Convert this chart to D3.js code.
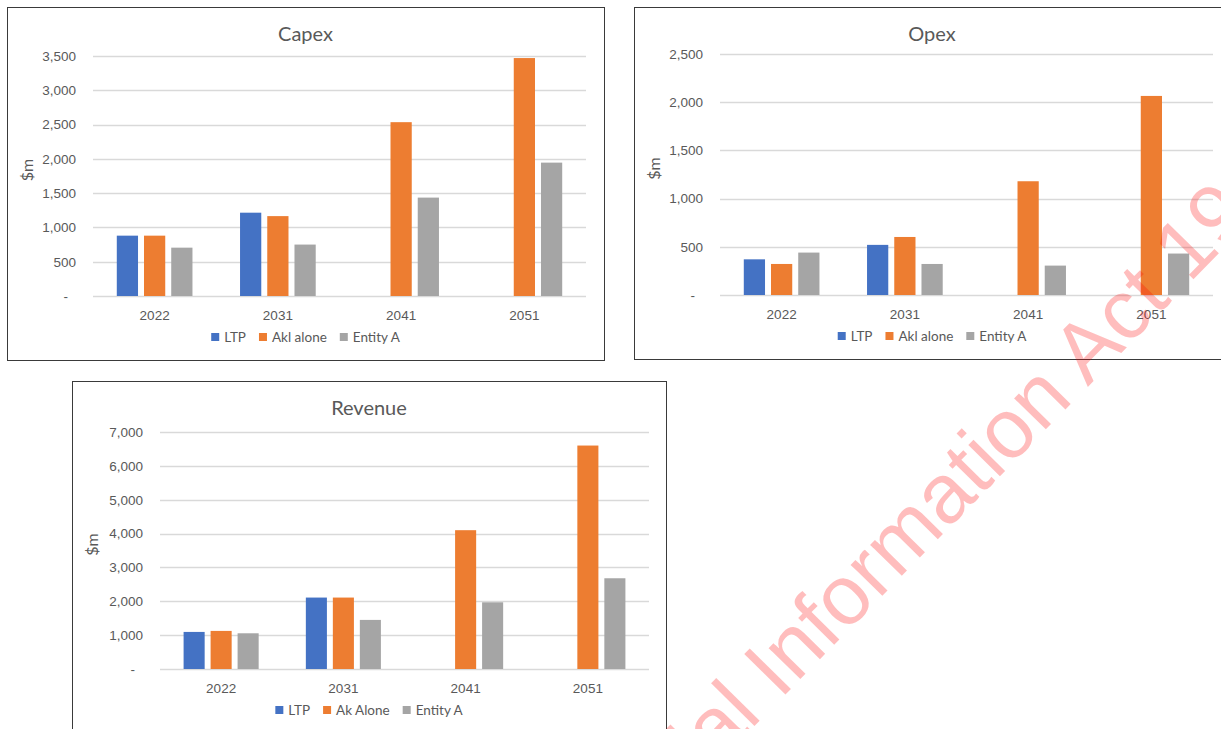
<!DOCTYPE html>
<html>
<head>
<meta charset="utf-8">
<script src="https://cdn.jsdelivr.net/npm/d3@7"></script>
<style>
  body { margin: 0; background: #fff; }
  svg { display: block; font-family: Lato, 'Noto Sans', sans-serif; }
</style>
</head>
<body>
<svg id="canvas" width="1221" height="729"></svg>
<script>
// ---- data ----
const years = ['2022', '2031', '2041', '2051'];
const seriesColors = ['#4472C4', '#ED7D31', '#A5A5A5'];

const capexSeries = ['LTP', 'Akl alone', 'Entity A'];
const capexLTP = [880, 1215, null, null];
const capexAkl = [880, 1165, 2535, 3470];
const capexEntity = [705, 750, 1435, 1945];

const opexSeries = ['LTP', 'Akl alone', 'Entity A'];
const opexLTP = [370, 520, null, null];
const opexAkl = [322, 602, 1180, 2065];
const opexEntity = [440, 322, 305, 430];

const revenueSeries = ['LTP', 'Ak Alone', 'Entity A'];
const revenueLTP = [1095, 2110, null, null];
const revenueAkl = [1125, 2110, 4100, 6600];
const revenueEntity = [1055, 1450, 1970, 2680];

const capexTicks = [0, 500, 1000, 1500, 2000, 2500, 3000, 3500];
const opexTicks = [0, 500, 1000, 1500, 2000, 2500];
const revenueTicks = [0, 1000, 2000, 3000, 4000, 5000, 6000, 7000];

const watermarkText = 'Released under the Official Information Act 1982';

class BarChart {

  constructor(_config, series, values) {
    this.config = {
      parentElement: _config.parentElement,
      x: _config.x,
      y: _config.y,
      containerWidth: _config.containerWidth,
      containerHeight: _config.containerHeight,
      title: _config.title,
      ticks: _config.ticks,
      margin: _config.margin
    }
    this.series = series;
    this.values = values;
    this.initVis();
  }

  initVis() {
    let vis = this;
    vis.width = vis.config.containerWidth - vis.config.margin.left - vis.config.margin.right;
    vis.height = vis.config.containerHeight - vis.config.margin.top - vis.config.margin.bottom;

    vis.panel = d3.select(vis.config.parentElement).append('g')
      .attr('transform', `translate(${vis.config.x},${vis.config.y})`);

    vis.panel.append('rect')
      .attr('x', 0.5)
      .attr('y', 0.5)
      .attr('width', vis.config.containerWidth)
      .attr('height', vis.config.containerHeight)
      .attr('fill', '#fff')
      .attr('stroke', '#3a3a3a')
      .attr('stroke-width', 1);

    vis.panel.append('text')
      .attr('x', vis.config.containerWidth / 2)
      .attr('y', 34)
      .attr('text-anchor', 'middle')
      .attr('font-size', 20)
      .attr('fill', '#595959')
      .text(vis.config.title);

    vis.chartArea = vis.panel.append('g')
      .attr('transform', `translate(${vis.config.margin.left},${vis.config.margin.top})`);

    vis.xScale = d3.scaleBand()
      .domain(years)
      .range([0, vis.width])
      .paddingInner(0.386)
      .paddingOuter(0.193);

    vis.xInner = d3.scaleBand()
      .domain(vis.series)
      .range([0, vis.xScale.bandwidth()])
      .paddingInner(0.22);

    vis.yScale = d3.scaleLinear()
      .domain([0, d3.max(vis.config.ticks)])
      .range([vis.height, 0]);

    vis.colorScale = d3.scaleOrdinal()
      .domain(vis.series)
      .range(seriesColors);

    vis.updateVis();
  }

  updateVis() {
    let vis = this;
    vis.groups = years.map((yr, i) => ({
      year: yr,
      bars: vis.series.map((s, j) => ({ key: s, value: vis.values[j][i] }))
        .filter(d => d.value !== null)
    }));
    vis.renderVis();
  }

  renderVis() {
    let vis = this;

    // gridlines
    vis.chartArea.selectAll('.grid-line-y')
      .data(vis.config.ticks)
      .enter()
      .append('line')
      .attr('class', 'grid-line-y')
      .attr('x1', 0)
      .attr('x2', vis.width)
      .attr('y1', d => Math.round(vis.yScale(d)) + 0.5)
      .attr('y2', d => Math.round(vis.yScale(d)) + 0.5)
      .attr('stroke', '#d9d9d9')
      .attr('stroke-width', 1.3);

    const groups = vis.chartArea.selectAll('.group')
      .data(vis.groups)
      .enter()
      .append('g')
      .attr('class', 'group')
      .attr('transform', d => `translate(${vis.xScale(d.year)},0)`);

    groups.selectAll('rect')
      .data(d => d.bars)
      .enter()
      .append('rect')
      .attr('x', d => vis.xInner(d.key))
      .attr('width', vis.xInner.bandwidth())
      .attr('y', d => vis.yScale(d.value))
      .attr('height', d => vis.height - vis.yScale(d.value))
      .attr('fill', d => vis.colorScale(d.key));

    // axes
    const yAxis = vis.chartArea.append('g')
      .attr('class', 'y-axis')
      .call(d3.axisLeft(vis.yScale)
        .tickValues(vis.config.ticks)
        .tickSize(0)
        .tickPadding(17)
        .tickFormat(d => d === 0 ? '-' : d3.format(',')(d)));
    yAxis.select('.domain').remove();
    yAxis.selectAll('text')
      .attr('font-size', 13.5)
      .attr('font-family', null)
      .attr('fill', '#595959')
      .attr('dx', d => d === 0 ? -8 : 0);

    const xAxis = vis.chartArea.append('g')
      .attr('class', 'x-axis')
      .attr('transform', `translate(0,${vis.height})`)
      .call(d3.axisBottom(vis.xScale).tickSize(0).tickPadding(14));
    xAxis.select('.domain').remove();
    xAxis.selectAll('text')
      .attr('font-size', 13.5)
      .attr('font-family', null)
      .attr('fill', '#595959');

    vis.chartArea.append('text')
      .attr('transform', `translate(${-vis.config.margin.left + 26},${vis.height / 2 - 6}) rotate(-90)`)
      .attr('text-anchor', 'middle')
      .attr('font-size', 16)
      .attr('fill', '#595959')
      .text('$m');

    // legend, centred on the panel
    const legend = vis.panel.append('g');
    let cursor = 0;
    vis.series.forEach((s, i) => {
      const item = legend.append('g').attr('transform', `translate(${cursor},0)`);
      item.append('rect')
        .attr('x', 0)
        .attr('y', -4)
        .attr('width', 8)
        .attr('height', 8)
        .attr('fill', vis.colorScale(s));
      const label = item.append('text')
        .attr('x', 13)
        .attr('y', 4.5)
        .attr('font-size', 13.5)
        .attr('fill', '#595959')
        .text(s);
      cursor += 13 + label.node().getComputedTextLength() + (i < vis.series.length - 1 ? 13 : 0);
    });
    legend.attr('transform', `translate(${(vis.config.containerWidth - cursor) / 2},${vis.config.margin.top + vis.height + 41})`);
  }
}

const svg = d3.select('#canvas');

new BarChart({
  parentElement: '#canvas', x: 7, y: 7,
  containerWidth: 597, containerHeight: 353,
  title: 'Capex', ticks: capexTicks,
  margin: { top: 49, right: 18, bottom: 64, left: 86 }
}, capexSeries, [capexLTP, capexAkl, capexEntity]);

new BarChart({
  parentElement: '#canvas', x: 634, y: 7,
  containerWidth: 596, containerHeight: 352,
  title: 'Opex', ticks: opexTicks,
  margin: { top: 47, right: 17, bottom: 64, left: 86 }
}, opexSeries, [opexLTP, opexAkl, opexEntity]);

new BarChart({
  parentElement: '#canvas', x: 72, y: 381,
  containerWidth: 594, containerHeight: 353,
  title: 'Revenue', ticks: revenueTicks,
  margin: { top: 51, right: 17, bottom: 65, left: 88 }
}, revenueSeries, [revenueLTP, revenueAkl, revenueEntity]);

// watermark across the lower right
const wm = svg.append('g')
  .attr('transform', 'translate(780,700) rotate(-45.5)');
const wmText = wm.append('text')
  .attr('font-family', "'Liberation Sans', Arial, sans-serif")
  .attr('font-size', 84)
  .attr('fill', 'rgba(255,0,0,0.26)')
  .text(watermarkText);
const offset = wmText.node().getSubStringLength(0, watermarkText.indexOf('Information'));
wmText.attr('x', -offset);
</script>
</body>
</html>
